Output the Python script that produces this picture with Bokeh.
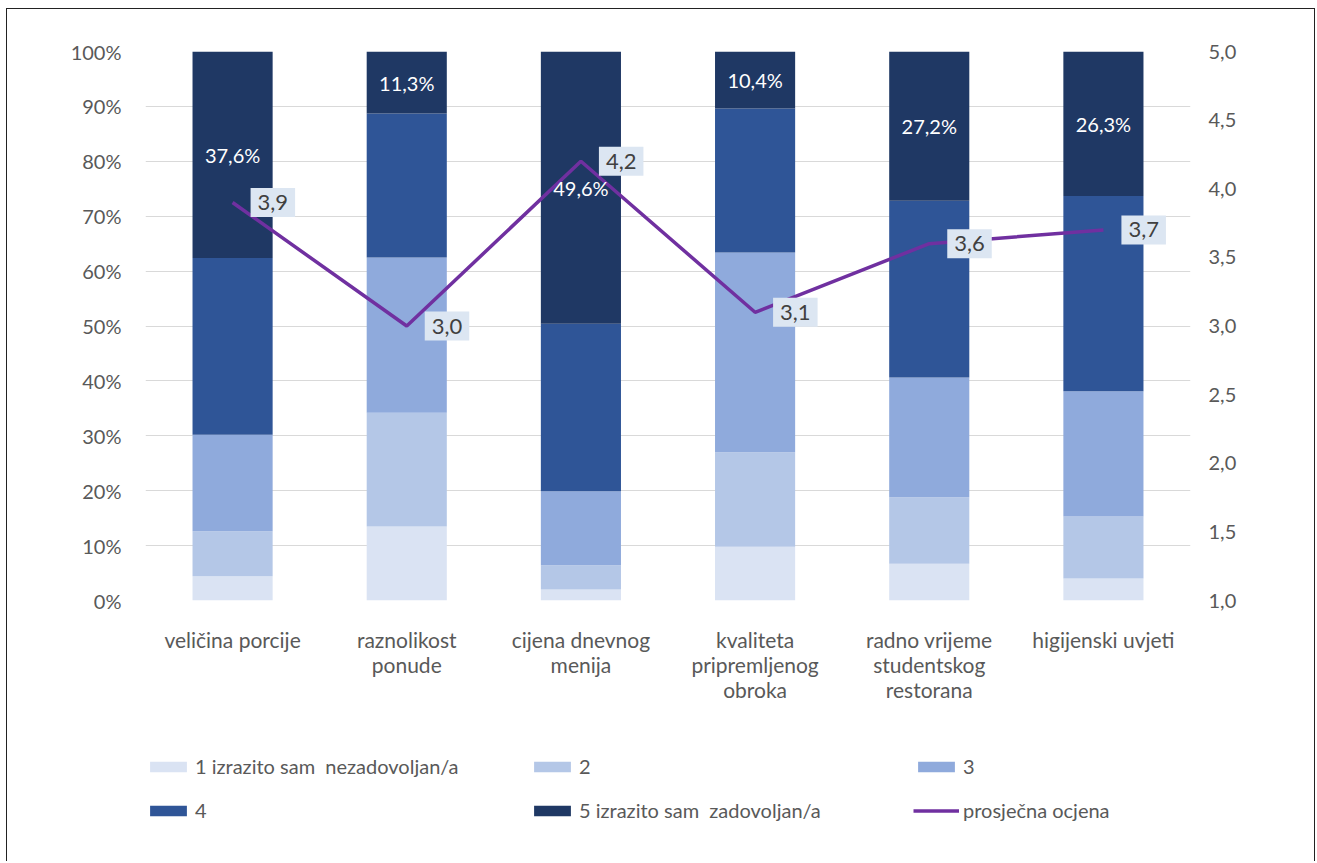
from bokeh.plotting import figure
from bokeh.layouts import column
from bokeh.models import (ColumnDataSource, Range1d, FactorRange, LinearAxis, FixedTicker,
                          CustomJSTickFormatter, LabelSet, Legend, LegendItem)
from bokeh.core.properties import value
from bokeh.embed import file_html
from bokeh.resources import INLINE

categories = ["veličina porcije", "raznolikost\nponude", "cijena dnevnog\nmenija",
              "kvaliteta\npripremljenog\nobroka", "radno vrijeme\nstudentskog\nrestorana",
              "higijenski uvjeti"]
r1 = [4.4, 13.5, 2.0, 9.8, 6.7, 4.0]
r2 = [8.2, 20.7, 4.4, 17.2, 12.1, 11.3]
r3 = [17.6, 28.3, 13.5, 36.4, 21.8, 22.8]
r4 = [32.2, 26.2, 30.5, 26.2, 32.2, 35.6]
r5 = [37.6, 11.3, 49.6, 10.4, 27.2, 26.3]
avg = [3.9, 3.0, 4.2, 3.1, 3.6, 3.7]
series_names = ["1 izrazito sam  nezadovoljan/a", "2", "3", "4", "5 izrazito sam  zadovoljan/a"]
avg_name = "prosječna ocjena"
colors = ["#dae3f3", "#b4c7e7", "#8faadc", "#2f5597", "#1f3864"]
LINE_COLOR = "#7030a0"
FONT = "Lato"

keys = ["r1", "r2", "r3", "r4", "r5"]
src = ColumnDataSource(dict(cat=categories, r1=r1, r2=r2, r3=r3, r4=r4, r5=r5, avg=avg,
                            top5_mid=[100 - v / 2 for v in r5],
                            lab5=[f"{v:.1f}%".replace(".", ",") for v in r5],
                            labavg=[f"{v:.1f}".replace(".", ",") for v in avg]))

W = 1307
p = figure(x_range=FactorRange(*categories, range_padding=0), y_range=Range1d(0, 100),
           width=W, height=726, output_backend="svg", toolbar_location=None,
           min_border_left=138, min_border_right=124, min_border_top=42, min_border_bottom=135)
p.extra_y_ranges = {"avg": Range1d(1, 5)}

p.outline_line_color = None
p.xgrid.grid_line_color = None
p.ygrid.grid_line_color = "#d9d9d9"
p.ygrid.grid_line_width = 1

renderers = p.vbar_stack(keys, x="cat", width=0.46, color=colors, source=src, line_color=None)
line = p.line("cat", "avg", source=src, y_range_name="avg", line_color=LINE_COLOR, line_width=3.5)

# axes
p.yaxis.ticker = FixedTicker(ticks=list(range(0, 101, 10)))
p.yaxis.formatter = CustomJSTickFormatter(code="return tick.toFixed(0) + '%';")
ax_r = LinearAxis(y_range_name="avg", ticker=FixedTicker(ticks=[1 + 0.5 * i for i in range(9)]),
                  formatter=CustomJSTickFormatter(code="return tick.toFixed(1).replace('.', ',');"))
p.add_layout(ax_r, "right")
for ax in [p.yaxis[0], ax_r, p.xaxis[0]]:
    ax.axis_line_color = None
    ax.major_tick_line_color = None
    ax.minor_tick_line_color = None
    ax.major_label_text_font = FONT
    ax.major_label_text_color = "#595959"
p.yaxis[0].major_label_text_font_size = "20px"
p.yaxis[0].major_label_standoff = 18
ax_r.major_label_text_font_size = "20px"
ax_r.major_label_standoff = 12
p.xaxis.major_label_text_font_size = "21px"
p.xaxis.major_label_standoff = 20
p.xaxis.major_label_text_line_height = 1.0

# labels for darkest segment
p.add_layout(LabelSet(x="cat", y="top5_mid", text="lab5", source=src, text_color="white",
                      text_font=value(FONT), text_font_size="20px", text_align="center",
                      text_baseline="middle"))
# labels for average line
p.text(x="cat", y="avg", text="labavg", source=src, y_range_name="avg",
       x_offset=18, text_color="#404040", text_font=value(FONT), text_font_size="22px",
       text_align="left", text_baseline="middle",
       background_fill_color="#dce6f2", padding=7)

# legend in its own strip below the chart (its renderers sit outside the visible range)
lf = figure(width=W, height=126, output_backend="svg", toolbar_location=None,
            x_axis_type=None, y_axis_type=None, x_range=Range1d(0, 1), y_range=Range1d(0, 1),
            min_border_left=138, min_border_right=124, min_border_top=0, min_border_bottom=0)
lf.outline_line_color = None
lf.grid.visible = False
dummy = ColumnDataSource(dict(x=[-5, -6], y=[-5, -6]))
leg_r = [lf.vbar(x="x", top="y", width=0.1, color=c, line_color=None, source=dummy) for c in colors]
leg_l = lf.line(x="x", y="y", line_color=LINE_COLOR, line_width=3.5, source=dummy)
items = [LegendItem(label=n, renderers=[r]) for n, r in zip(series_names, leg_r)]
items.append(LegendItem(label=avg_name, renderers=[leg_l]))
legend = Legend(items=items, ncols=3, orientation="horizontal", location=(0, 29),
                label_text_font=FONT, label_text_font_size="20px", label_text_color="#595959",
                glyph_width=46, glyph_height=13, label_standoff=4, label_width=334,
                spacing=0, padding=0, margin=0, border_line_color=None,
                background_fill_alpha=0, label_height=44)
lf.add_layout(legend, "center")

layout = column(p, lf, spacing=0,
                styles={"margin-left": "6px", "margin-top": "8px",
                        "border-left": "1px solid #222", "border-top": "1px solid #222",
                        "border-right": "1px solid #222"})

open("out.html", "w").write(file_html(layout, INLINE))
